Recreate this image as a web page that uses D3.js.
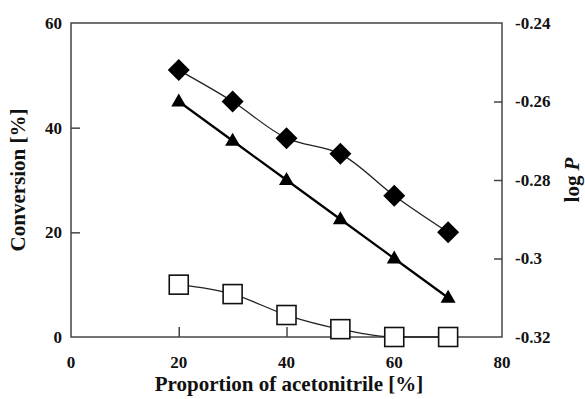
<!DOCTYPE html>
<html>
<head>
<meta charset="utf-8">
<script src="https://cdn.jsdelivr.net/npm/d3@7"></script>
<style>
  body { margin: 0; background: #fff; }
</style>
</head>
<body>
<svg id="chart" width="585" height="399"></svg>
<script>
// proportion of acetonitrile [%]
const proportion = [20, 30, 40, 50, 60, 70];

// conversion [%] (left axis)
const convDiamond = [51, 45, 38, 35, 27, 20];
const convSquare = [10, 8.2, 4.2, 1.5, 0, 0];

// log P (right axis)
const logP = [-0.26, -0.27, -0.28, -0.29, -0.30, -0.31];

const xTicks = [0, 20, 40, 60, 80];
const yTicks = [0, 20, 40, 60];
const rTicks = [-0.32, -0.3, -0.28, -0.26, -0.24];

const svg = d3.select('#chart');
// plot box edges in pixels
const pLeft = 71, pRight = 502, pTop = 23, pBottom = 337;
const serif = '"Liberation Serif", "Times New Roman", serif';

// scales
const x = d3.scaleLinear().domain([0, 80]).range([pLeft, pRight]);
const y = d3.scaleLinear().domain([0, 60]).range([pBottom, pTop]);
const yr = d3.scaleLinear().domain([-0.32, -0.24]).range([pBottom, pTop]);

const axisColor = '#444';

// frame: left, bottom, right and top lines
svg.append('rect')
    .attr('x', pLeft).attr('y', pTop)
    .attr('width', pRight - pLeft).attr('height', pBottom - pTop)
    .attr('fill', 'none')
    .attr('stroke', axisColor)
    .attr('stroke-width', 1.5);

// left axis, ticks pointing inward
let gl = svg.append('g')
    .attr('transform', `translate(${pLeft},0)`)
    .call(d3.axisLeft(y).tickValues(yTicks).tickSize(-9).tickPadding(9).tickFormat(d3.format('d')));
gl.selectAll('line').filter(d => d === 0 || d === 60).remove();

// bottom axis: tick marks from the axis, labels placed below with the same scale
let gb = svg.append('g')
    .attr('transform', `translate(0,${pBottom})`)
    .call(d3.axisBottom(x).tickValues(xTicks).tickSize(-10).tickFormat(''));
gb.selectAll('line').filter(d => d === 0 || d === 80).remove();

svg.append('g').selectAll('text')
    .data(xTicks).join('text')
    .attr('x', d => x(d))
    .attr('y', 368)
    .attr('text-anchor', 'middle')
    .attr('fill', '#111')
    .style('font-size', '17px')
    .style('font-family', serif)
    .style('font-weight', 'bold')
    .text(d => d);

// right axis for log P
let gr = svg.append('g')
    .attr('transform', `translate(${pRight},0)`)
    .call(d3.axisRight(yr).tickValues(rTicks).tickSize(-8).tickPadding(13)
        .tickFormat(d => String(+d.toFixed(2))));
gr.selectAll('line').filter(d => d === -0.32 || d === -0.24).remove();

[gl, gb, gr].forEach(g => {
    g.select('.domain').remove();
    g.selectAll('line').attr('stroke', axisColor).attr('stroke-width', 1.5);
    g.selectAll('text')
        .style('font-size', '17px')
        .style('font-family', serif)
        .style('font-weight', 'bold')
        .attr('fill', '#111');
});

// axis titles
const title = (sel) => sel
    .style('font-family', serif).style('font-weight', 'bold').style('font-size', '21px')
    .attr('fill', '#111').attr('text-anchor', 'middle');

svg.append('text')
    .attr('x', 289).attr('y', 391)
    .call(title)
    .text('Proportion of acetonitrile [%]');

svg.append('text')
    .attr('transform', `translate(24.5,${(pTop + pBottom) / 2}) rotate(-90)`)
    .call(title)
    .text('Conversion [%]');

let lp = svg.append('text')
    .attr('transform', `translate(579,${(pTop + pBottom) / 2}) rotate(-90)`)
    .call(title);
lp.append('tspan').text('log ');
lp.append('tspan').style('font-style', 'italic').text('P');

// series lines
const diamonds = proportion.map((p, i) => [p, convDiamond[i]]);
const squares = proportion.map((p, i) => [p, convSquare[i]]);
const triangles = proportion.map((p, i) => [p, logP[i]]);

svg.append('path')
    .datum(diamonds)
    .attr('fill', 'none').attr('stroke', '#222').attr('stroke-width', 1.3)
    .attr('d', d3.line().x(d => x(d[0])).y(d => y(d[1])).curve(d3.curveCatmullRom));

svg.append('path')
    .datum(squares)
    .attr('fill', 'none').attr('stroke', '#222').attr('stroke-width', 1.3)
    .attr('d', d3.line().x(d => x(d[0])).y(d => y(d[1])).curve(d3.curveMonotoneX));

svg.append('path')
    .datum(triangles)
    .attr('fill', 'none').attr('stroke', '#000').attr('stroke-width', 2.2)
    .attr('d', d3.line().x(d => x(d[0])).y(d => yr(d[1])));

// markers
svg.append('g').selectAll('path')
    .data(diamonds).join('path')
    .attr('transform', d => `translate(${x(d[0])},${y(d[1])})`)
    .attr('d', 'M0,-11L11,0L0,11L-11,0Z')
    .attr('fill', '#000');

svg.append('g').selectAll('path')
    .data(triangles).join('path')
    .attr('transform', d => `translate(${x(d[0])},${yr(d[1])})`)
    .attr('d', 'M0,-8L7.5,5L-7.5,5Z')
    .attr('fill', '#000');

svg.append('g').selectAll('rect')
    .data(squares).join('rect')
    .attr('x', d => x(d[0]) - 9.5).attr('y', d => y(d[1]) - 9.5)
    .attr('width', 19).attr('height', 19)
    .attr('fill', '#fff').attr('stroke', '#111').attr('stroke-width', 1.6);
</script>
</body>
</html>
